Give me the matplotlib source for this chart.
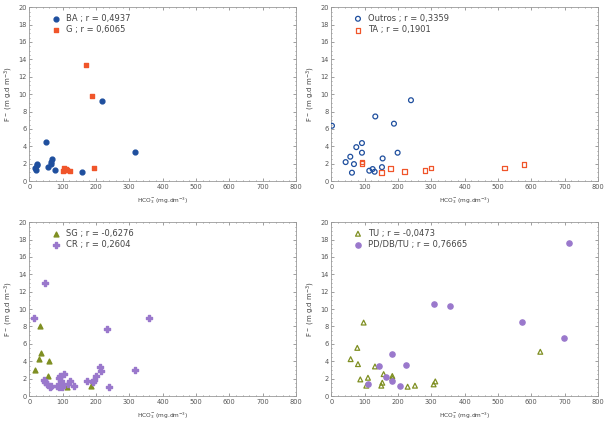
import numpy as np
import matplotlib
matplotlib.use("Agg")
import matplotlib.pyplot as plt
from matplotlib.ticker import MultipleLocator

# panel 1
ba_x = [17, 19, 22, 24, 50, 56, 64, 66, 67, 77, 158, 219, 317]
ba_y = [1.5, 1.3, 1.8, 2.0, 4.45, 1.6, 2.0, 2.2, 2.5, 1.25, 1.05, 9.2, 3.35]
g_x = [102, 104, 107, 110, 113, 123, 171, 189, 193]
g_y = [1.1, 1.5, 1.3, 1.4, 1.25, 1.1, 13.3, 9.8, 1.45]

# panel 2
out_x = [2, 43, 57, 62, 68, 75, 92, 92, 114, 124, 130, 132, 152, 154, 188, 199, 239]
out_y = [6.36, 2.18, 2.8, 0.96, 1.95, 3.9, 4.37, 3.26, 1.19, 1.38, 1.07, 7.43, 1.6, 2.6, 6.6, 3.26, 9.3]
ta_x = [92, 92, 150, 177, 220, 281, 299, 520, 578]
ta_y = [2.2, 2.05, 1.0, 1.45, 1.1, 1.22, 1.5, 1.5, 1.95]

# panel 3
sg_x = [16, 28, 31, 34, 56, 60, 113, 184]
sg_y = [2.94, 4.3, 8.1, 4.93, 2.33, 4.05, 1.07, 1.1]
cr_x = [14, 45, 47, 47, 53, 61, 65, 84, 89, 90, 91, 95, 97, 99, 104, 117, 121, 135,
        172, 190, 193, 200, 213, 214, 232, 240, 317, 359]
cr_y = [8.99, 1.87, 1.64, 12.96, 1.38, 1.0, 1.18, 1.1, 1.0, 2.1, 2.3, 1.72, 1.07, 1.38, 2.52, 1.34, 1.68, 1.1,
        1.72, 1.64, 1.9, 2.25, 3.37, 2.9, 7.72, 1.07, 2.98, 9.02]

# panel 4
tu_x = [58, 78, 80, 87, 97, 105, 110, 131, 150, 153, 157, 183, 183, 229, 251, 307, 312, 627]
tu_y = [4.24, 5.54, 3.67, 1.91, 8.45, 1.19, 2.1, 3.4, 1.19, 1.53, 2.52, 2.3, 2.07, 1.07, 1.19, 1.34, 1.68, 5.09]
pd_x = [110, 143, 163, 182, 183, 207, 224, 307, 357, 571, 697, 714]
pd_y = [1.34, 3.48, 2.22, 4.86, 1.68, 1.19, 3.56, 10.63, 10.33, 8.57, 6.73, 17.55]

blue = "#1f4f9e"
orange = "#f0552a"
olive = "#7f8f22"
purple = "#9a78cc"

fig = plt.figure(figsize=(6.04, 4.24), dpi=100)
pos = [[0.0485, 0.573, 0.4415, 0.41],
       [0.5485, 0.573, 0.4415, 0.41],
       [0.0485, 0.066, 0.4415, 0.41],
       [0.5485, 0.066, 0.4415, 0.41]]
axes = [fig.add_axes(p) for p in pos]

def style(ax):
    ax.set_xlim(0, 800)
    ax.set_ylim(0, 20)
    ax.xaxis.set_major_locator(MultipleLocator(100))
    ax.yaxis.set_major_locator(MultipleLocator(2))
    ax.xaxis.set_minor_locator(MultipleLocator(20))
    ax.yaxis.set_minor_locator(MultipleLocator(0.5))
    ax.tick_params(which="both", direction="in", top=True, right=True,
                   labelsize=4.8, colors="#555555", width=0.4, pad=2)
    ax.tick_params(which="major", length=2)
    ax.tick_params(which="minor", length=1)
    for s in ax.spines.values():
        s.set_color("#999999")
        s.set_linewidth(0.6)
    ax.set_xlabel(r"HCO$_3^-$(mg.dm$^{-3}$)", fontsize=4.2, color="#444444", labelpad=4)
    ax.set_ylabel(r"F$^-$ (m g.d m$^{-3}$)", fontsize=5, color="#444444", labelpad=2)

ax = axes[0]
ax.scatter(ba_x, ba_y, marker="o", s=12, color=blue, label="BA ; r = 0,4937", zorder=3)
ax.scatter(g_x, g_y, marker="s", s=12, color=orange, label="G ; r = 0,6065", zorder=3)

ax = axes[1]
ax.scatter(out_x, out_y, marker="o", s=12, facecolors="none", edgecolors=blue, linewidths=0.9,
           label="Outros ; r = 0,3359", zorder=3)
ax.scatter(ta_x, ta_y, marker="s", s=12, facecolors="none", edgecolors=orange, linewidths=0.9,
           label="TA ; r = 0,1901", zorder=3)

ax = axes[2]
ax.scatter(sg_x, sg_y, marker="^", s=12, color=olive, label="SG ; r = -0,6276", zorder=3)
ax.scatter(cr_x, cr_y, marker="P", s=16, color=purple, label="CR ; r = 0,2604", zorder=3)

ax = axes[3]
ax.scatter(tu_x, tu_y, marker="^", s=12, facecolors="none", edgecolors=olive, linewidths=0.9,
           label="TU ; r = -0,0473", zorder=3)
ax.scatter(pd_x, pd_y, marker="o", s=14, color=purple, label="PD/DB/TU ; r = 0,76665", zorder=3)

for ax in axes:
    style(ax)
    ax.legend(loc="upper left", bbox_to_anchor=(0.05, 0.99), frameon=False, fontsize=6,
              handletextpad=0.2, labelspacing=0.3, borderaxespad=0.2, labelcolor="#444444")

fig.savefig("out.png", dpi=100)
